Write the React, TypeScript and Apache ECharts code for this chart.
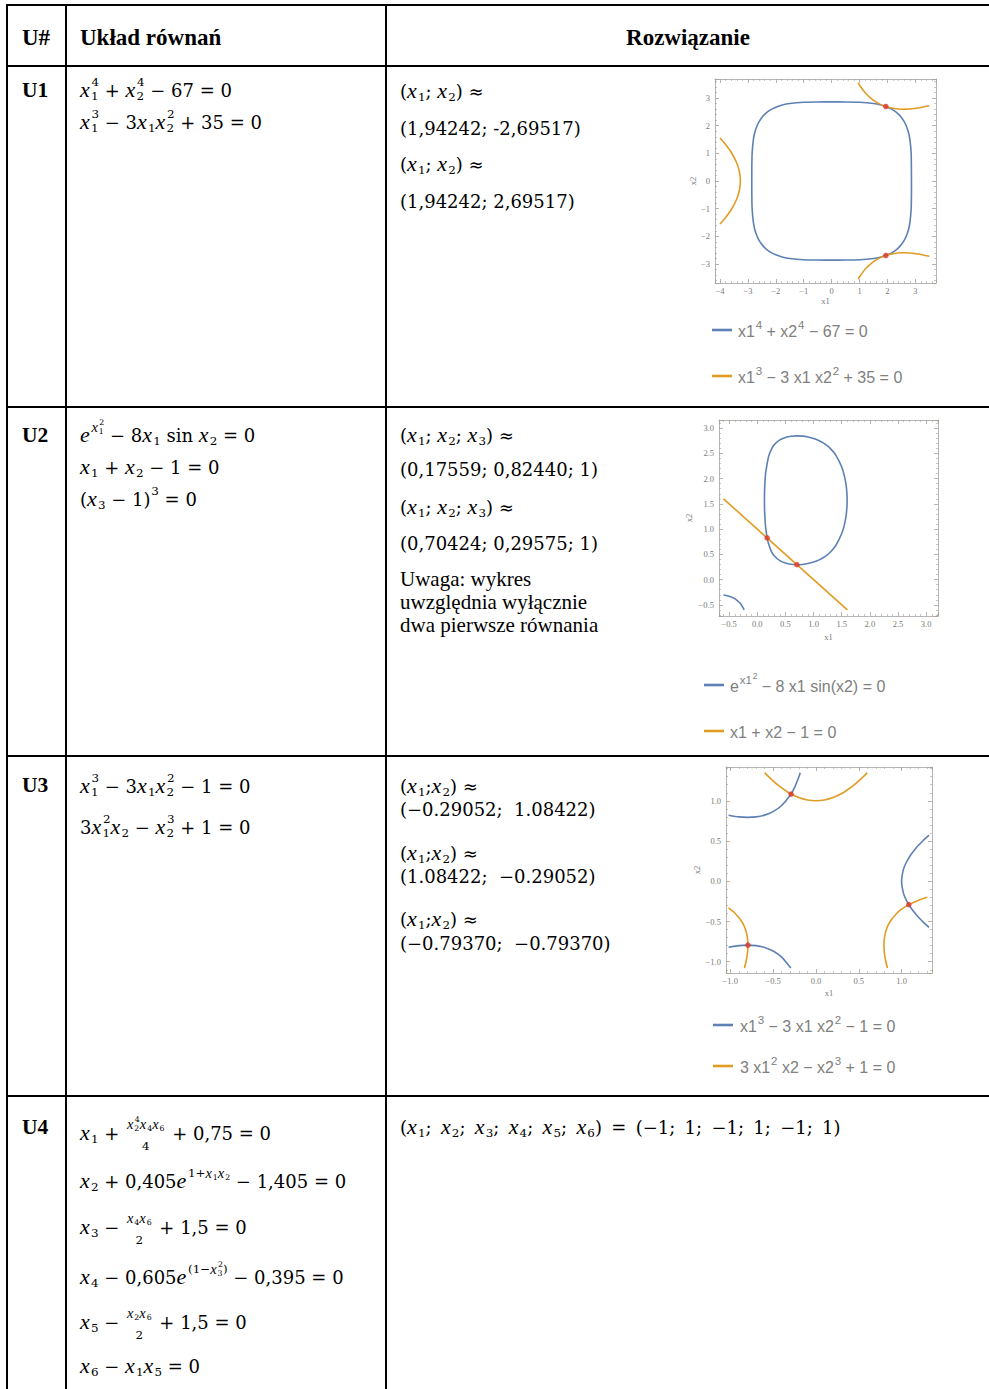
import React, { useEffect, useRef } from "react";
import * as echarts from "echarts";

const W = 989;
const H = 1389;

const BLUE = "#5E81B5";
const ORANGE = "#E19C24";
const RED = "#D9342B";

// ---------------- U1 plot data ----------------
const U1_X_RANGE = [-4.18, 3.74];
const U1_Y_RANGE = [-3.69, 3.69];
const U1_STEP = 1;
const U1_BLUE = [
  [2.861, 0], [2.85, 1], [2.805, 1.5], [2.75, 1.77], [2.672, 2], [2.6, 2.148], [2.499, 2.3], [2.411, 2.4],
  [2.3, 2.499], [2.148, 2.6], [2, 2.672], [1.77, 2.75], [1.5, 2.805], [1, 2.85], [0.5, 2.86], [0, 2.861],
  [-0.5, 2.86], [-1, 2.85], [-1.5, 2.805], [-1.77, 2.75], [-2, 2.672], [-2.148, 2.6], [-2.3, 2.499], [-2.411, 2.4],
  [-2.499, 2.3], [-2.6, 2.148], [-2.672, 2], [-2.75, 1.77], [-2.805, 1.5], [-2.85, 1], [-2.86, 0.5], [-2.861, 0],
  [-2.86, -0.5], [-2.85, -1], [-2.805, -1.5], [-2.75, -1.77], [-2.672, -2], [-2.6, -2.148], [-2.499, -2.3], [-2.411, -2.4],
  [-2.3, -2.499], [-2.148, -2.6], [-2, -2.672], [-1.77, -2.75], [-1.5, -2.805], [-1, -2.85], [-0.5, -2.86], [0, -2.861],
  [0.5, -2.86], [1, -2.85], [1.5, -2.805], [1.77, -2.75], [2, -2.672], [2.148, -2.6], [2.3, -2.499], [2.411, -2.4],
  [2.499, -2.3], [2.6, -2.148], [2.672, -2], [2.75, -1.77], [2.805, -1.5], [2.85, -1], [2.86, -0.5], [2.861, 0],
];
const U1_ORANGE_LEFT = [
  [-4, 1.555], [-3.8, 1.32], [-3.6, 1.039], [-3.4, 0.65], [-3.3, 0.308], [-3.271, 0],
  [-3.3, -0.308], [-3.4, -0.65], [-3.6, -1.039], [-3.8, -1.32], [-4, -1.555],
];
const U1_ORANGE_TOP = [
  [0.948, 3.55], [1, 3.464], [1.2, 3.194], [1.5, 2.92], [1.75, 2.773], [1.942, 2.695],
  [2.2, 2.63], [2.5, 2.598], [2.8, 2.604], [3.1, 2.64], [3.5, 2.723],
];
const U1_ORANGE_BOTTOM = [
  [0.948, -3.55], [1, -3.464], [1.2, -3.194], [1.5, -2.92], [1.75, -2.773], [1.942, -2.695],
  [2.2, -2.63], [2.5, -2.598], [2.8, -2.604], [3.1, -2.64], [3.5, -2.723],
];
const U1_POINTS = [[1.94242, -2.69517], [1.94242, 2.69517]];

// ---------------- U2 plot data ----------------
const U2_X_RANGE = [-0.68, 3.21];
const U2_Y_RANGE = [-0.72, 3.16];
const U2_STEP = 0.5;
const U2_BLUE_LOOP = [
  [0.1272, 1.571], [0.128, 1.45], [0.13, 1.36], [0.14, 1.145], [0.15, 1.02], [0.1756, 0.824], [0.2, 0.708],
  [0.25, 0.561], [0.3, 0.474], [0.4, 0.376], [0.5, 0.327], [0.6, 0.303], [0.7, 0.296], [0.8, 0.301],
  [0.9, 0.318], [1.0, 0.347], [1.1, 0.391], [1.2, 0.455], [1.3, 0.548], [1.4, 0.686], [1.5, 0.912],
  [1.55, 1.1], [1.58, 1.287], [1.594, 1.472], [1.5955, 1.571], [1.594, 1.67], [1.58, 1.855], [1.55, 2.04],
  [1.5, 2.23], [1.4, 2.456], [1.3, 2.593], [1.2, 2.686], [1.1, 2.75], [1.0, 2.795], [0.9, 2.824],
  [0.8, 2.841], [0.7, 2.846], [0.6, 2.838], [0.5, 2.815], [0.4, 2.766], [0.3, 2.668], [0.25, 2.58],
  [0.2, 2.434], [0.15, 2.121], [0.14, 1.996], [0.13, 1.78], [0.128, 1.69], [0.1272, 1.571],
];
const U2_BLUE_ARC = [[-0.6, -0.303], [-0.5, -0.327], [-0.4, -0.376], [-0.3, -0.474], [-0.25, -0.561], [-0.234, -0.6]];
const U2_ORANGE = [[-0.6, 1.6], [1.6, -0.6]];
const U2_POINTS = [[0.17559, 0.8244], [0.70424, 0.29575]];

// ---------------- U3 plot data ----------------
const U3_X_RANGE = [-1.05, 1.355];
const U3_Y_RANGE = [-1.14, 1.42];
const U3_STEP = 0.5;
const U3_BLUE_RIGHT = [
  [1.32, 0.573], [1.25, 0.504], [1.2, 0.45], [1.15, 0.389], [1.1, 0.317], [1.05, 0.224], [1.02, 0.141], [1, 0],
  [1.02, -0.141], [1.05, -0.224], [1.1, -0.317], [1.15, -0.389], [1.2, -0.45], [1.25, -0.504], [1.32, -0.573],
];
const U3_BLUE_UPPER = [
  [-1.02, 0.821], [-0.9, 0.8], [-0.8, 0.794], [-0.7, 0.8], [-0.6, 0.822], [-0.5, 0.866], [-0.4, 0.942],
  [-0.3, 1.068], [-0.25, 1.164], [-0.2, 1.296], [-0.183, 1.35],
];
const U3_BLUE_LOWER = [
  [-1.02, -0.821], [-0.9, -0.8], [-0.8, -0.794], [-0.7, -0.8], [-0.6, -0.822], [-0.5, -0.866], [-0.4, -0.942],
  [-0.3, -1.068], [-0.293, -1.08],
];
const U3_ORANGE_TOP = [
  [-0.6, 1.35], [-0.554, 1.3], [-0.45, 1.2], [-0.317, 1.1], [-0.2, 1.04], [-0.1, 1.01], [0, 1],
  [0.1, 1.01], [0.2, 1.04], [0.317, 1.1], [0.45, 1.2], [0.554, 1.3], [0.6, 1.35],
];
const U3_ORANGE_RIGHT = [
  [1.3, -0.199], [1.2, -0.2345], [1.084, -0.2905], [1.0, -0.347], [0.942, -0.4], [0.866, -0.5], [0.822, -0.6],
  [0.8, -0.7], [0.794, -0.794], [0.8, -0.9], [0.8165, -1.0], [0.835, -1.08],
];
const U3_ORANGE_LEFT = [
  [-1.02, -0.332], [-0.942, -0.4], [-0.866, -0.5], [-0.822, -0.6], [-0.8, -0.7], [-0.794, -0.794],
  [-0.8, -0.9], [-0.8165, -1.0], [-0.835, -1.08],
];
const U3_POINTS = [[-0.29052, 1.08422], [1.08422, -0.29052], [-0.7937, -0.7937]];

// ---------------- Text content ----------------
type Tok =
  | { k: "n" | "i"; s: string }
  | { k: "sub" | "sup"; a: Tok[] }
  | { k: "ss" | "frac"; a: Tok[]; b: Tok[] };
const N = (s: string): Tok => ({ k: "n", s });
const I = (s: string): Tok => ({ k: "i", s });
const SUB = (...a: Tok[]): Tok => ({ k: "sub", a });
const SUP = (...a: Tok[]): Tok => ({ k: "sup", a });
const SS = (a: string, b: string): Tok => ({ k: "ss", a: [N(a)], b: [N(b)] });
const FRAC = (a: Tok[], b: Tok[]): Tok => ({ k: "frac", a, b });
const X = I("x");
const xs = (d: string): Tok[] => [X, SUB(N(d))];
const TS = "\u2009"; // thin space

const HEADERS = ["U#", "Układ równań", "Rozwiązanie"];
const ROW_LABELS = ["U1", "U2", "U3", "U4"];

const U1_EQS: Tok[][] = [
  [X, SS("1", "4"), N(" + "), X, SS("2", "4"), N(" − 67 = 0")],
  [X, SS("1", "3"), N(" − 3"), ...xs("1"), X, SS("2", "2"), N(" + 35 = 0")],
];
const U1_SOL: Tok[][] = [
  [N("("), ...xs("1"), N("; "), ...xs("2"), N(") ≈")],
  [N("(1,94242; -2,69517)")],
  [N("("), ...xs("1"), N("; "), ...xs("2"), N(") ≈")],
  [N("(1,94242; 2,69517)")],
];
const U2_EQS: Tok[][] = [
  [I("e"), SUP(X, SS("1", "2")), N(" − 8"), ...xs("1"), N(" sin "), ...xs("2"), N(" = 0")],
  [...xs("1"), N(" + "), ...xs("2"), N(" − 1 = 0")],
  [N("("), ...xs("3"), N(" − 1)"), SUP(N("3")), N(" = 0")],
];
const U2_SOL: Tok[][] = [
  [N("("), ...xs("1"), N("; "), ...xs("2"), N("; "), ...xs("3"), N(") ≈")],
  [N("(0,17559; 0,82440; 1)")],
  [N("("), ...xs("1"), N("; "), ...xs("2"), N("; "), ...xs("3"), N(") ≈")],
  [N("(0,70424; 0,29575; 1)")],
];
const U2_NOTE = ["Uwaga: wykres", "uwzględnia wyłącznie", "dwa pierwsze równania"];
const U3_EQS: Tok[][] = [
  [X, SS("1", "3"), N(" − 3"), ...xs("1"), X, SS("2", "2"), N(" − 1 = 0")],
  [N("3"), X, SS("1", "2"), ...xs("2"), N(" − "), X, SS("2", "3"), N(" + 1 = 0")],
];
const U3_SOL: Tok[][] = [
  [N("("), ...xs("1"), N(";"), ...xs("2"), N(") ≈")],
  [N("(−0.29052;  1.08422)")],
  [N("("), ...xs("1"), N(";"), ...xs("2"), N(") ≈")],
  [N("(1.08422;  −0.29052)")],
  [N("("), ...xs("1"), N(";"), ...xs("2"), N(") ≈")],
  [N("(−0.79370;  −0.79370)")],
];
const U4_EQS: Tok[][] = [
  [...xs("1"), N(" + "), FRAC([X, SS("2", "4"), ...xs("4"), ...xs("6")], [N("4")]), N(" + 0,75 = 0")],
  [...xs("2"), N(" + 0,405"), I("e"), SUP(N("1+"), ...xs("1"), ...xs("2")), N(" − 1,405 = 0")],
  [...xs("3"), N(" − "), FRAC([...xs("4"), ...xs("6")], [N("2")]), N(" + 1,5 = 0")],
  [...xs("4"), N(" − 0,605"), I("e"), SUP(N("(1−"), X, SS("3", "2"), N(")")), N(" − 0,395 = 0")],
  [...xs("5"), N(" − "), FRAC([...xs("2"), ...xs("6")], [N("2")]), N(" + 1,5 = 0")],
  [...xs("6"), N(" − "), ...xs("1"), ...xs("5"), N(" = 0")],
];
const SEP = ";" + TS + " ";
const U4_SOL: Tok[][] = [
  [N("("), ...xs("1"), N(SEP), ...xs("2"), N(SEP), ...xs("3"), N(SEP), ...xs("4"), N(SEP), ...xs("5"), N(SEP), ...xs("6"),
    N(")" + TS + " = " + TS + "(−1" + SEP + "1" + SEP + "−1" + SEP + "1" + SEP + "−1" + SEP + "1)")],
];

const LEG_U1: Tok[][] = [
  [N("x1"), SUP(N("4")), N(" + x2"), SUP(N("4")), N(" − 67 = 0")],
  [N("x1"), SUP(N("3")), N(" − 3 x1 x2"), SUP(N("2")), N(" + 35 = 0")],
];
const LEG_U2: Tok[][] = [
  [N("e"), SUP(N("x1"), SUP(N("2"))), N(" − 8 x1 sin(x2) = 0")],
  [N("x1 + x2 − 1 = 0")],
];
const LEG_U3: Tok[][] = [
  [N("x1"), SUP(N("3")), N(" − 3 x1 x2"), SUP(N("2")), N(" − 1 = 0")],
  [N("3 x1"), SUP(N("2")), N(" x2 − x2"), SUP(N("3")), N(" + 1 = 0")],
];

// ---------------- Layout helpers ----------------
const MATH = "DejaVu Serif";
const MATH_IT = "Liberation Serif";
const TIMES = "Liberation Serif";
const SANS = "Liberation Sans";

let ctx: CanvasRenderingContext2D | null = null;
function measure(s: string, size: number, family: string, italic: boolean, bold = false) {
  if (!ctx) ctx = document.createElement("canvas").getContext("2d");
  ctx!.font = `${italic ? "italic " : ""}${bold ? "bold " : ""}${size}px "${family}"`;
  return ctx!.measureText(s).width;
}

function txt(s: string, x: number, y: number, size: number, family: string, opt: any = {}) {
  const align = opt.align || "left";
  return {
    type: "text",
    x,
    y,
    silent: true,
    z: 10,
    style: {
      text: s,
      fontSize: size,
      fontFamily: family,
      fontStyle: opt.italic ? "italic" : "normal",
      fontWeight: opt.bold ? "bold" : "normal",
      fill: opt.color || "#000",
      textAlign: align,
      align,
      textVerticalAlign: "middle",
      verticalAlign: "middle",
    },
  };
}

type Fnt = { family: string; ifamily: string; iscale: number; color: string; sub: number; sup: number; scale: number };

function lay(toks: Tok[], x: number, cy: number, size: number, f: Fnt, out: any[] | null): number {
  const s2 = size * f.scale;
  for (const t of toks) {
    if (t.k === "n" || t.k === "i") {
      const it = t.k === "i";
      const fam = it ? f.ifamily : f.family;
      const sz = it ? size * f.iscale : size;
      const w = measure(t.s, sz, fam, it) + (it ? size * 0.05 : 0);
      if (out) out.push(txt(t.s, x, cy - (it ? size * 0.03 : 0), sz, fam, { italic: it, color: f.color }));
      x += w;
    } else if (t.k === "sub") {
      x = lay(t.a, x + 0.3, cy + size * f.sub, s2, f, out);
    } else if (t.k === "sup") {
      x = lay(t.a, x + 0.8, cy - size * f.sup, s2, f, out);
    } else if (t.k === "ss") {
      const x1 = lay(t.a, x + 0.3, cy + size * f.sub, s2, f, out);
      const x2 = lay(t.b, x + 0.8, cy - size * f.sup, s2, f, out);
      x = Math.max(x1, x2);
    } else if (t.k === "frac") {
      const wa = lay(t.a, 0, 0, s2, f, null);
      const wb = lay(t.b, 0, 0, s2, f, null);
      const w = Math.max(wa, wb) + 4;
      lay(t.a, x + (w - wa) / 2, cy - size * 0.47, s2, f, out);
      lay(t.b, x + (w - wb) / 2, cy + size * 0.72, s2, f, out);
      x += w;
    }
  }
  return x;
}

const MATH_F: Fnt = { family: MATH, ifamily: MATH_IT, iscale: 1.22, color: "#000", sub: 0.32, sup: 0.42, scale: 0.66 };
const LEG_F: Fnt = { family: SANS, ifamily: SANS, iscale: 1, color: "#808080", sub: 0.27, sup: 0.36, scale: 0.72 };

function buildGraphic() {
  const els: any[] = [];
  const rect = (x: number, y: number, w: number, h: number) =>
    els.push({ type: "rect", silent: true, z: 20, shape: { x, y, width: w, height: h }, style: { fill: "#000" } });
  // table rules
  rect(6, 4, W - 6, 2);
  rect(6, 4, 2, H);
  rect(65, 4, 2, H);
  rect(385, 4, 2, H);
  for (const y of [65, 406, 755, 1095]) rect(6, y, W - 6, 2);

  // headers
  els.push(txt(HEADERS[0], 22, 37, 23, TIMES, { bold: true }));
  els.push(txt(HEADERS[1], 80, 37, 23, TIMES, { bold: true }));
  els.push(txt(HEADERS[2], 688, 37, 23, TIMES, { bold: true, align: "center" }));
  const rowY = [90, 435, 785, 1127];
  ROW_LABELS.forEach((l, i) => els.push(txt(l, 22, rowY[i], 21.5, TIMES, { bold: true })));

  const block = (lines: Tok[][], x: number, ys: number[], f: Fnt, size: number) =>
    lines.forEach((ln, i) => lay(ln, x, ys[i], size, f, els));

  block(U1_EQS, 80, [90, 122], MATH_F, 18);
  block(U1_SOL, 400, [91, 128, 164, 201], MATH_F, 18);
  block(U2_EQS, 80, [435, 467, 499], MATH_F, 18);
  block(U2_SOL, 400, [435, 469, 507, 543], MATH_F, 18);
  U2_NOTE.forEach((s, i) => els.push(txt(s, 400, [579, 602, 625][i], 21, TIMES)));
  block(U3_EQS, 80, [786, 827], MATH_F, 18);
  block(U3_SOL, 400, [786, 809, 853, 876, 919, 943], MATH_F, 18);
  block(U4_EQS, 80, [1133, 1181, 1227, 1277, 1322, 1366], MATH_F, 18);
  block(U4_SOL, 400, [1127], MATH_F, 18);

  // legends
  const legend = (lines: Tok[][], x0: number, ys: number[], tx: number) => {
    lines.forEach((ln, i) => {
      els.push({
        type: "line", silent: true, z: 10,
        shape: { x1: x0, y1: ys[i], x2: x0 + 20, y2: ys[i] },
        style: { stroke: i === 0 ? BLUE : ORANGE, lineWidth: 2.6 },
      });
      lay(ln, tx, ys[i] + 1, 16, LEG_F, els);
    });
  };
  legend(LEG_U1, 712, [330, 376], 738);
  legend(LEG_U2, 704, [685, 731], 730);
  legend(LEG_U3, 713, [1025, 1066], 740);
  return els;
}

// ---------------- Axes ----------------
const FRAME = "#b5b5b5";
const TICKC = "#a8a090";

function fmt(step: number, digits: number) {
  return (v: number) => {
    const k = v / step;
    if (Math.abs(k - Math.round(k)) > 1e-6) return "";
    const r = Math.round(k) * step;
    const s = Math.abs(r).toFixed(digits);
    return r < -1e-9 ? "−" + s : s;
  };
}

function axis(gi: number, range: number[], step: number, digits: number, position: string, main: boolean, name: string, nameGap: number, isY: boolean) {
  return {
    type: "value",
    gridIndex: gi,
    min: range[0],
    max: range[1],
    position,
    minInterval: step,
    maxInterval: step,
    splitNumber: Math.round((range[1] - range[0]) / step),
    axisLine: { show: true, onZero: false, lineStyle: { color: FRAME, width: 1 } },
    axisTick: { show: true, inside: true, length: 4, lineStyle: { color: TICKC, width: 0.8 } },
    minorTick: { show: true, splitNumber: 5, length: 2, lineStyle: { color: TICKC, width: 0.6 } },
    splitLine: { show: false },
    minorSplitLine: { show: false },
    axisLabel: {
      show: main,
      fontSize: 8.5,
      color: "#7a7a7a",
      fontFamily: TIMES,
      margin: isY ? 5 : 3,
      formatter: fmt(step, digits),
    },
    name: main ? name : "",
    nameLocation: "middle",
    nameGap,
    nameRotate: isY ? 90 : 0,
    nameTextStyle: { fontSize: 8.5, color: "#7a7a7a", fontFamily: TIMES },
  };
}

function buildOption() {
  const grids = [
    { left: 715, top: 79, width: 221, height: 204 },
    { left: 719, top: 420, width: 219, height: 196 },
    { left: 726, top: 767, width: 206, height: 206 },
  ];
  const spec = [
    { xr: U1_X_RANGE, yr: U1_Y_RANGE, step: U1_STEP, d: 0, xg: 13, yg: 14 },
    { xr: U2_X_RANGE, yr: U2_Y_RANGE, step: U2_STEP, d: 1, xg: 16, yg: 26 },
    { xr: U3_X_RANGE, yr: U3_Y_RANGE, step: U3_STEP, d: 1, xg: 15, yg: 24 },
  ];
  const xAxis: any[] = [];
  const yAxis: any[] = [];
  spec.forEach((s, gi) => {
    xAxis.push(axis(gi, s.xr, s.step, s.d, "bottom", true, "x1", s.xg, false));
    xAxis.push(axis(gi, s.xr, s.step, s.d, "top", false, "", 0, false));
    yAxis.push(axis(gi, s.yr, s.step, s.d, "left", true, "x2", s.yg, true));
    yAxis.push(axis(gi, s.yr, s.step, s.d, "right", false, "", 0, true));
  });
  const line = (gi: number, name: string, data: number[][], color: string) => ({
    type: "line",
    name,
    xAxisIndex: gi * 2,
    yAxisIndex: gi * 2,
    data,
    showSymbol: false,
    symbol: "none",
    smooth: 0.2,
    silent: true,
    lineStyle: { color, width: 1.6 },
    z: 2,
  });
  const dots = (gi: number, data: number[][]) => ({
    type: "scatter",
    name: "rozwiązania",
    xAxisIndex: gi * 2,
    yAxisIndex: gi * 2,
    data,
    symbolSize: 5.5,
    silent: true,
    itemStyle: { color: RED },
    z: 3,
  });
  return {
    animation: false,
    backgroundColor: "#ffffff",
    grid: grids.map((g) => ({ ...g, show: true, backgroundColor: "#fff", borderWidth: 0 })),
    xAxis,
    yAxis,
    series: [
      line(0, "x1^4 + x2^4 - 67 = 0", U1_BLUE, BLUE),
      line(0, "x1^3 - 3 x1 x2^2 + 35 = 0 (a)", U1_ORANGE_LEFT, ORANGE),
      line(0, "x1^3 - 3 x1 x2^2 + 35 = 0 (b)", U1_ORANGE_TOP, ORANGE),
      line(0, "x1^3 - 3 x1 x2^2 + 35 = 0 (c)", U1_ORANGE_BOTTOM, ORANGE),
      dots(0, U1_POINTS),
      line(1, "e^(x1^2) - 8 x1 sin(x2) = 0 (a)", U2_BLUE_LOOP, BLUE),
      line(1, "e^(x1^2) - 8 x1 sin(x2) = 0 (b)", U2_BLUE_ARC, BLUE),
      line(1, "x1 + x2 - 1 = 0", U2_ORANGE, ORANGE),
      dots(1, U2_POINTS),
      line(2, "x1^3 - 3 x1 x2^2 - 1 = 0 (a)", U3_BLUE_RIGHT, BLUE),
      line(2, "x1^3 - 3 x1 x2^2 - 1 = 0 (b)", U3_BLUE_UPPER, BLUE),
      line(2, "x1^3 - 3 x1 x2^2 - 1 = 0 (c)", U3_BLUE_LOWER, BLUE),
      line(2, "3 x1^2 x2 - x2^3 + 1 = 0 (a)", U3_ORANGE_TOP, ORANGE),
      line(2, "3 x1^2 x2 - x2^3 + 1 = 0 (b)", U3_ORANGE_RIGHT, ORANGE),
      line(2, "3 x1^2 x2 - x2^3 + 1 = 0 (c)", U3_ORANGE_LEFT, ORANGE),
      dots(2, U3_POINTS),
    ],
    graphic: { elements: buildGraphic() },
  };
}

export default function App() {
  const ref = useRef<HTMLDivElement>(null);
  useEffect(() => {
    document.body.style.margin = "0";
    const chart = echarts.init(ref.current!, null, { renderer: "svg", width: W, height: H });
    chart.setOption(buildOption() as any);
    return () => chart.dispose();
  }, []);
  return <div ref={ref} style={{ width: W, height: H, background: "#fff" }} />;
}
